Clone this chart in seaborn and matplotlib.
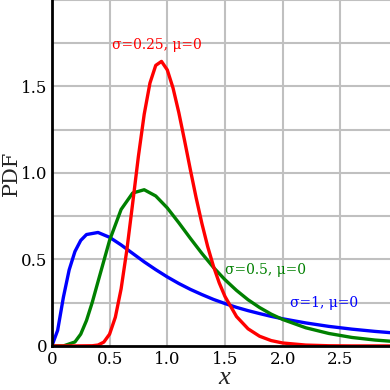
import matplotlib

matplotlib.use("Agg")
import matplotlib.pyplot as plt
import pandas as pd
import seaborn as sns

# values
X_S1 = [0, 0.05, 0.1, 0.15, 0.2, 0.25, 0.3, 0.4, 0.5, 0.6, 0.7, 0.8, 0.9, 1.0,
        1.1, 1.2, 1.3, 1.4, 1.5, 1.6, 1.7, 1.8, 1.9, 2.0, 2.2, 2.4, 2.6, 2.8, 3.0]
PDF_S1 = [0, 0.090, 0.282, 0.440, 0.546, 0.610, 0.644, 0.656, 0.628, 0.584, 0.535,
          0.486, 0.441, 0.399, 0.361, 0.327, 0.297, 0.269, 0.245, 0.223, 0.204,
          0.187, 0.171, 0.157, 0.133, 0.113, 0.097, 0.084, 0.073]

X_S05 = [0, 0.1, 0.2, 0.25, 0.3, 0.35, 0.4, 0.5, 0.6, 0.7, 0.8, 0.9, 1.0, 1.1,
         1.2, 1.3, 1.4, 1.5, 1.6, 1.7, 1.8, 1.9, 2.0, 2.2, 2.4, 2.6, 2.8, 3.0]
PDF_S05 = [0, 0.000, 0.023, 0.068, 0.147, 0.252, 0.372, 0.610, 0.789, 0.884,
           0.903, 0.867, 0.798, 0.712, 0.622, 0.535, 0.454, 0.383, 0.321, 0.267,
           0.222, 0.184, 0.153, 0.105, 0.072, 0.049, 0.034, 0.024]

X_S025 = [0, 0.2, 0.35, 0.4, 0.45, 0.5, 0.55, 0.6, 0.65, 0.7, 0.75, 0.8, 0.85,
          0.9, 0.95, 1.0, 1.05, 1.1, 1.15, 1.2, 1.25, 1.3, 1.35, 1.4, 1.45, 1.5,
          1.6, 1.7, 1.8, 1.9, 2.0, 2.2, 2.4, 2.6, 3.0]
PDF_S025 = [0, 0, 0.001, 0.005, 0.022, 0.068, 0.166, 0.330, 0.556, 0.824, 1.097,
            1.339, 1.520, 1.622, 1.645, 1.596, 1.491, 1.349, 1.187, 1.019, 0.857,
            0.708, 0.575, 0.461, 0.365, 0.286, 0.170, 0.099, 0.056, 0.031, 0.017,
            0.005, 0.001, 0.0, 0.0]

SERIES = ["σ=1, μ=0", "σ=0.5, μ=0", "σ=0.25, μ=0"]
COLORS = ["#0000ff", "#008000", "#ff0000"]

X_TICKS = [0, 0.5, 1.0, 1.5, 2.0, 2.5]
X_TICK_LABELS = ["0", "0.5", "1.0", "1.5", "2.0", "2.5"]
Y_TICKS = [0, 0.5, 1.0, 1.5]
Y_TICK_LABELS = ["0", "0.5", "1.0", "1.5"]
Y_GRID = [0.25, 0.5, 0.75, 1.0, 1.25, 1.5, 1.75, 2.0]

frames = []
for name, xs, ys in zip(SERIES, [X_S1, X_S05, X_S025], [PDF_S1, PDF_S05, PDF_S025]):
    frames.append(pd.DataFrame({"x": xs, "pdf": ys, "series": name}))
df = pd.concat(frames, ignore_index=True)

sns.set_theme(style="white")
plt.rcParams["font.family"] = ["DejaVu Serif", "DejaVu Sans"]

fig = plt.figure(figsize=(3.9, 3.9), dpi=100)
ax = fig.add_axes([0.133, 0.113, 0.867, 0.887])

for xv in X_TICKS[1:]:
    ax.axvline(xv, color="#c0c0c0", linewidth=1.5, zorder=0)
for yv in Y_GRID:
    ax.axhline(yv, color="#c0c0c0", linewidth=1.5, zorder=0)

sns.lineplot(data=df, x="x", y="pdf", hue="series", palette=COLORS,
             hue_order=SERIES, linewidth=2.4, sort=False, legend=False,
             estimator=None, ax=ax, zorder=3)

ax.set_xlim(0, 2.93)
ax.set_ylim(0, 2.0)
ax.set_xticks(X_TICKS)
ax.set_xticklabels(X_TICK_LABELS, fontsize=12)
ax.set_yticks(Y_TICKS)
ax.set_yticklabels(Y_TICK_LABELS, fontsize=12)
ax.tick_params(axis="y", length=0, pad=3, colors="black")
ax.tick_params(axis="x", length=0, pad=4, colors="black")

for side in ["top", "right"]:
    ax.spines[side].set_visible(False)
for side in ["left", "bottom"]:
    ax.spines[side].set_color("black")
    ax.spines[side].set_linewidth(2)
    ax.spines[side].set_zorder(4)

ax.set_xlabel("")
ax.set_ylabel("")
fig.text(0.575, 0.030, "x", fontsize=19, style="italic",
         family=["Liberation Serif"], ha="center", va="center")
fig.text(0.030, 0.555, "PDF", fontsize=15, rotation=90,
         ha="center", va="center")

ax.text(0.91, 1.74, SERIES[2], color=COLORS[2], fontsize=10, ha="center", va="center")
ax.text(1.50, 0.44, SERIES[1], color=COLORS[1], fontsize=10, ha="left", va="center")
ax.text(2.06, 0.25, SERIES[0], color=COLORS[0], fontsize=10, ha="left", va="center")

fig.savefig("out.png", dpi=100)
